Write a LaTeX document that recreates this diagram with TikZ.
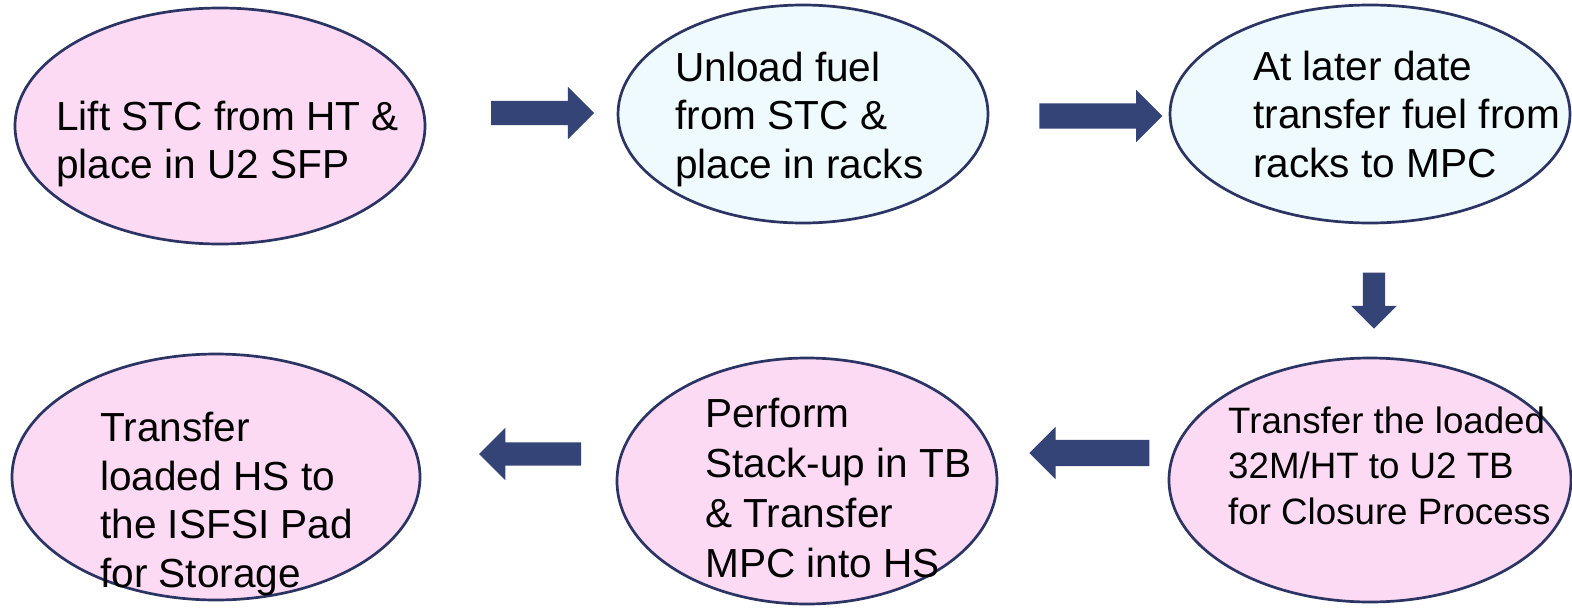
\documentclass[tikz,border=0pt]{standalone}
\usepackage{fontspec}
\setmainfont{Liberation Sans}
\usetikzlibrary{shapes.geometric,shapes.arrows}
\definecolor{pinkfill}{RGB}{252,218,244}
\definecolor{bluefill}{RGB}{238,250,253}
\definecolor{navy}{RGB}{44,52,100}
\definecolor{arrowc}{RGB}{52,68,118}
\tikzset{
  stepell/.style={ellipse, draw=navy, line width=2.7pt, inner sep=0pt},
  pinkell/.style={stepell, fill=pinkfill},
  blueell/.style={stepell, fill=bluefill},
  steptext/.style={anchor=north west, inner sep=0pt, align=left,
    font=\fontsize{40.6}{48.5}\selectfont},
  smalltext/.style={anchor=north west, inner sep=0pt, align=left,
    font=\fontsize{36.7}{45.5}\selectfont},
  blockarr/.style={single arrow, fill=arrowc, draw=none,
    single arrow tip angle=90}
}
\begin{document}
\begin{tikzpicture}[x=1pt,y=-1pt]
\useasboundingbox (0,0) rectangle (1572,608);
\fill[white] (0,0) rectangle (1572,608);
% ellipses
\node[pinkell, minimum width=410, minimum height=236] (e1) at (220,126) {};
\node[blueell, minimum width=370, minimum height=218] (e2) at (803,114) {};
\node[blueell, minimum width=400, minimum height=218] (e3) at (1370,114) {};
\node[pinkell, minimum width=408, minimum height=246] (e4) at (216,477) {};
\node[pinkell, minimum width=380, minimum height=246] (e5) at (807,481) {};
\node[pinkell, minimum width=402, minimum height=244] (e6) at (1370,480) {};
% texts
\node[steptext] (t1) at (56,100.5) {Lift STC from HT \&\\place in U2 SFP};
\node[steptext] (t2) at (675,51.5) {Unload fuel\\from STC \&\\place in racks};
\node[steptext] (t3) at (1253,50.5) {At later date\\transfer fuel from\\racks to MPC};
\node[steptext] (t4) at (100,412) {Transfer\\loaded HS to\\the ISFSI Pad\\for Storage};
\node[steptext, font=\fontsize{40.6}{50}\selectfont] (t5) at (705,397.5) {Perform\\Stack-up in TB\\\& Transfer\\MPC into HS};
\node[smalltext] (t6) at (1228,406.5) {Transfer the loaded\\32M/HT to U2 TB\\for Closure Process};
% block arrows
\node[blockarr, inner xsep=0pt, inner ysep=12pt, minimum height=103, single arrow head extend=14] (a1) at (536.5,113) {};
\node[blockarr, inner xsep=0pt, inner ysep=12.5pt, minimum height=123, single arrow head extend=13.5] (a2) at (1094.5,116) {};
\node[blockarr, inner ysep=0pt, inner xsep=11pt, minimum height=56, single arrow head extend=11.5, shape border rotate=270] (a3) at (1374,295) {};
\node[blockarr, inner xsep=0pt, inner ysep=13pt, minimum height=120, single arrow head extend=13, shape border rotate=180] (a4) at (1096,453) {};
\node[blockarr, inner xsep=0pt, inner ysep=11.5pt, minimum height=102, single arrow head extend=14.5, shape border rotate=180] (a5) at (536,454) {};
\end{tikzpicture}
\end{document}
